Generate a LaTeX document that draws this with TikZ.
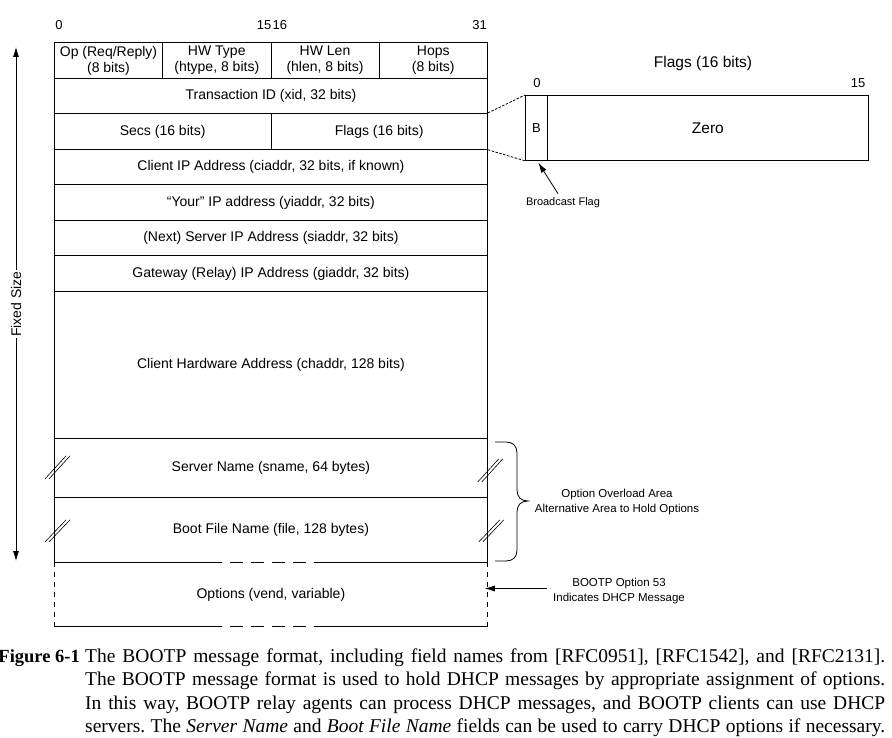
\documentclass[tikz,border=0pt]{standalone}
\usepackage{fontspec}
\setmainfont{Liberation Sans}
\newfontfamily\capfont{Liberation Serif}
\usetikzlibrary{calc,arrows.meta}
\frenchspacing
\begin{document}
\begin{tikzpicture}[x=1pt,y=-1pt,
  lw/.style={line width=0.8pt},
  field/.style={draw, line width=0.8pt, rectangle, inner sep=0pt, anchor=north west, align=center, font=\fontsize{14}{16}\selectfont},
  lbl/.style={inner sep=0pt, font=\fontsize{13}{15}\selectfont},
  note/.style={inner sep=0pt, align=center, font=\fontsize{11.5}{14.5}\selectfont},
  arr/.style={line width=0.8pt, -{Latex[length=10pt,width=6pt]}},
  zoomln/.style={line width=0.8pt, dash pattern=on 2.5pt off 1.5pt},
  brk/.style={line width=0.6pt},
  capline/.style={inner sep=0pt, anchor=base west, font=\capfont\fontsize{19.5}{23}\selectfont},
]
\useasboundingbox (0,0) rectangle (892,738);

% bit numbers
\node[lbl] (b0) at (59,25) {0};
\node[lbl, anchor=east] (b15) at (271.5,25) {15};
\node[lbl, anchor=west] (b16) at (272.5,25) {16};
\node[lbl, anchor=east] (b31) at (487,25) {31};

% fields
\node[field, minimum width=108.25, minimum height=36] (op) at (54,42) {Op (Req/Reply)\\(8 bits)};
\node[field, minimum width=108.25, minimum height=36] (htype) at (162.25,42) {HW Type\\(htype, 8 bits)};
\node[field, minimum width=108.25, minimum height=36] (hlen) at (270.5,42) {HW Len\\(hlen, 8 bits)};
\node[field, minimum width=108.25, minimum height=36] (hops) at (378.75,42) {Hops\\(8 bits)};
\node[field, minimum width=433, minimum height=35] (xid) at (54,78) {Transaction ID (xid, 32 bits)};
\node[field, minimum width=216.5, minimum height=36] (secs) at (54,113) {Secs (16 bits)};
\node[field, minimum width=216.5, minimum height=36] (flags) at (270.5,113) {Flags (16 bits)};
\node[field, minimum width=433, minimum height=35] (ciaddr) at (54,149) {Client IP Address (ciaddr, 32 bits, if known)};
\node[field, minimum width=433, minimum height=36] (yiaddr) at (54,184) {“Your” IP address (yiaddr, 32 bits)};
\node[field, minimum width=433, minimum height=35] (siaddr) at (54,220) {(Next) Server IP Address (siaddr, 32 bits)};
\node[field, minimum width=433, minimum height=36] (giaddr) at (54,255) {Gateway (Relay) IP Address (giaddr, 32 bits)};
\node[field, minimum width=433, minimum height=147] (chaddr) at (54,291) {Client Hardware Address (chaddr, 128 bits)};
\node[field, minimum width=433, minimum height=59] (sname) at (54,438) {Server Name (sname, 64 bytes)};
\node[field, draw=none, minimum width=433, minimum height=65] (file) at (54,497) {Boot File Name (file, 128 bytes)};
\node[field, draw=none, minimum width=433, minimum height=64] (opts) at (54,562) {Options (vend, variable)};

% boot file outline
\draw[lw] (file.south west) -- (file.north west) (file.north east) -- (file.south east);
\draw[lw] (file.south west) -- ($(file.south west)+(168,0)$);
\draw[lw, dash pattern=on 13pt off 8pt, dash phase=13pt] ($(file.south west)+(168,0)$) -- ($(file.south west)+(264,0)$);
\draw[lw] ($(file.south west)+(264,0)$) -- (file.south east);

% options outline
\draw[lw, dash pattern=on 5pt off 5pt] (opts.north west) -- (opts.south west);
\draw[lw, dash pattern=on 5pt off 5pt] (opts.north east) -- (opts.south east);
\draw[lw] (opts.south west) -- ($(opts.south west)+(168,0)$);
\draw[lw, dash pattern=on 13pt off 8pt, dash phase=13pt] ($(opts.south west)+(168,0)$) -- ($(opts.south west)+(264,0)$);
\draw[lw] ($(opts.south west)+(264,0)$) -- (opts.south east);

% break marks
\draw[brk] ($(sname.west)+(-9,11)$) -- ++(21,-23);
\draw[brk] ($(sname.west)+(-5,11)$) -- ++(21,-23);
\draw[brk] ($(sname.east)+(-10,14)$) -- ++(21,-23);
\draw[brk] ($(sname.east)+(-6,14)$) -- ++(21,-23);
\draw[brk] ($(file.west)+(-9,12)$) -- ++(21,-22);
\draw[brk] ($(file.west)+(-5,12)$) -- ++(21,-22);
\draw[brk] ($(file.east)+(-9,12)$) -- ++(21,-22);
\draw[brk] ($(file.east)+(-5,12)$) -- ++(21,-22);

% fixed size arrow
\coordinate (fstop) at (16,47);
\coordinate (fsbot) at (16,561);
\draw[lw, {Latex[length=10pt,width=6pt]}-{Latex[length=10pt,width=6pt]}] (fstop) -- (fsbot);
\node[fill=white, inner sep=1pt, rotate=90, font=\fontsize{14}{16}\selectfont] (fs) at (16,304) {Fixed Size};

% flags detail
\node[field, minimum width=22, minimum height=65, font=\fontsize{13}{15}\selectfont] (bcell) at (525,95) {B};
\node[field, minimum width=321, minimum height=65, font=\fontsize{15.5}{18}\selectfont] (zcell) at (547,95) {Zero};
\node[lbl, font=\fontsize{15.5}{18}\selectfont] (ftitle) at (703,63) {Flags (16 bits)};
\node[lbl] (f0) at (537,83.5) {0};
\node[lbl] (f15) at (858,83.5) {15};
\draw[zoomln] (flags.north east) -- (bcell.north west);
\draw[zoomln] (flags.south east) -- (bcell.south west);
\node[note, font=\fontsize{11}{13}\selectfont] (bflag) at (563,203) {Broadcast Flag};
\draw[arr] ($(bflag.north)+(-5,-4)$) -- ($(bcell.south)+(2,2)$);

% brace
\draw[lw] (495,442) -- (506,442) .. controls (513,442) and (517,446) .. (517,453) -- (517,490) .. controls (517,497) and (521,501) .. (528,501) .. controls (521,501) and (517,505) .. (517,512) -- (517,550) .. controls (517,557) and (513,561) .. (506,561) -- (495,561);
\node[note] (ovl) at (617,502) {Option Overload Area\\Alternative Area to Hold Options};

% option 53
\node[note] (opt53) at (619,591) {BOOTP Option 53\\Indicates DHCP Message};
\coordinate (a53) at (547,588.5);
\draw[arr] (a53) -- ($(a53 -| opts.east)+(-3,0)$);

% caption
\node[capline, anchor=base east, font=\capfont\bfseries\fontsize{18.5}{23}\selectfont] (figlbl) at (80,662) {Figure 6-1};
\node[capline] (c1) at (85,662) {\makebox[800pt][s]{The BOOTP message format, including field names from [RFC0951], [RFC1542], and [RFC2131].}};
\node[capline] (c2) at (85,685.5) {\makebox[800pt][s]{The BOOTP message format is used to hold DHCP messages by appropriate assignment of options.}};
\node[capline] (c3) at (85,709) {\makebox[800pt][s]{In this way, BOOTP relay agents can process DHCP messages, and BOOTP clients can use DHCP}};
\node[capline] (c4) at (85,732) {\makebox[800pt][s]{servers. The \textit{Server Name} and \textit{Boot File Name} fields can be used to carry DHCP options if necessary.}};
\end{tikzpicture}
\end{document}
